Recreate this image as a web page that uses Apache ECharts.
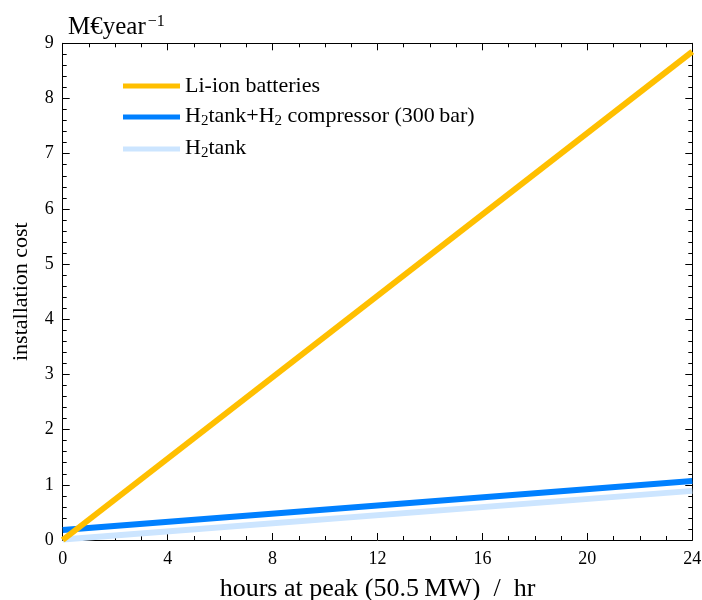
<!DOCTYPE html>
<html>
<head>
<meta charset="utf-8">
<script src="https://cdn.jsdelivr.net/npm/echarts@6/dist/echarts.min.js"></script>
<style>
html,body{margin:0;padding:0;background:#fff;}
#chart{width:702px;height:600px;}
</style>
</head>
<body>
<div id="chart"></div>
<script>
// Hours of storage at peak load and annualised installation cost (M€/year)
const hours = [0, 24];
const liIon = [0.0, 8.85];
const h2TankCompressor = [0.18, 1.07];
const h2Tank = [0.01, 0.89];
const xTicks = [0, 4, 8, 12, 16, 20, 24];
const yTicks = [0, 1, 2, 3, 4, 5, 6, 7, 8, 9];

const FONT = '"Liberation Serif", "DejaVu Serif", serif';

const seriesDefs = [
  { name: 'li', values: liIon, color: '#FFBF00', z: 4 },
  { name: 'h2c', values: h2TankCompressor, color: '#0080FF', z: 3 },
  { name: 'h2', values: h2Tank, color: '#CCE5FF', z: 2 }
];

const legendLabels = {
  li: '{t|Li-ion batteries}',
  h2c: '{t|H}{s|2}{t|tank+H}{s|2}{t| compressor (300\u2009bar)}',
  h2: '{t|H}{s|2}{t|tank}'
};

const chart = echarts.init(document.getElementById('chart'), null, { renderer: 'canvas' });

const tickCommon = (splits) => ({
  axisLine: { show: true, onZero: false, lineStyle: { color: '#000', width: 1 } },
  axisTick: { show: true, inside: true, length: 7, lineStyle: { color: '#000', width: 1 } },
  minorTick: { show: true, splitNumber: splits, length: 4, lineStyle: { color: '#000', width: 1 } },
  splitLine: { show: false },
  minorSplitLine: { show: false }
});

chart.setOption({
  animation: false,
  backgroundColor: '#fff',
  grid: { left: 62.7, right: 9.7, top: 43.3, bottom: 60, containLabel: false, outerBoundsMode: 'none' },
  title: {
    text: '{t|M\u20ACyear}{sup|\u22121}',
    left: 63, top: 14,
    padding: [0, 5],
    textStyle: {
      fontWeight: 'normal',
      rich: {
        t: { fontFamily: FONT, fontSize: 25, fontWeight: 'normal', color: '#000', verticalAlign: 'top', height: 26 },
        sup: { fontFamily: FONT, fontSize: 16, fontWeight: 'normal', color: '#000', verticalAlign: 'top', padding: [0, 0, 0, 2] }
      }
    }
  },
  legend: {
    orient: 'vertical',
    left: 123, top: 75,
    padding: 0,
    itemWidth: 57, itemHeight: 5,
    itemGap: 8,
    icon: 'rect',
    formatter: (n) => legendLabels[n],
    textStyle: {
      padding: [0, 0, 0, 0],
      rich: {
        t: { fontFamily: FONT, fontSize: 22, color: '#000', height: 22, verticalAlign: 'top' },
        s: { fontFamily: FONT, fontSize: 15, color: '#000', verticalAlign: 'top', padding: [9, 0, 0, 0] }
      }
    },
    data: seriesDefs.map(d => d.name)
  },
  xAxis: [
    Object.assign({
      type: 'value', min: xTicks[0], max: xTicks[xTicks.length - 1], interval: 4,
      position: 'bottom',
      name: 'hours at peak (50.5\u2009MW)\u2002/\u2002hr',
      nameLocation: 'middle', nameGap: 36,
      nameTextStyle: { fontFamily: FONT, fontSize: 26, color: '#000' },
      axisLabel: { fontFamily: FONT, fontSize: 18, color: '#000', margin: 10 }
    }, tickCommon(4)),
    Object.assign({
      type: 'value', min: xTicks[0], max: xTicks[xTicks.length - 1], interval: 4,
      position: 'top', axisLabel: { show: false }
    }, tickCommon(4))
  ],
  yAxis: [
    Object.assign({
      type: 'value', min: yTicks[0], max: yTicks[yTicks.length - 1], interval: 1,
      position: 'left',
      name: 'installation cost',
      nameLocation: 'middle', nameGap: 30,
      nameTextStyle: { fontFamily: FONT, fontSize: 22, color: '#000' },
      axisLabel: { fontFamily: FONT, fontSize: 18, color: '#000', margin: 9 }
    }, tickCommon(5)),
    Object.assign({
      type: 'value', min: yTicks[0], max: yTicks[yTicks.length - 1], interval: 1,
      position: 'right', axisLabel: { show: false }
    }, tickCommon(5))
  ],
  series: seriesDefs.map(d => ({
    name: d.name,
    type: 'line',
    xAxisIndex: 0, yAxisIndex: 0,
    data: hours.map((h, i) => [h, d.values[i]]),
    showSymbol: false,
    symbol: 'none',
    z: d.z,
    color: d.color,
    lineStyle: { color: d.color, width: 6, cap: 'butt' },
    clip: true
  }))
});
</script>
</body>
</html>
